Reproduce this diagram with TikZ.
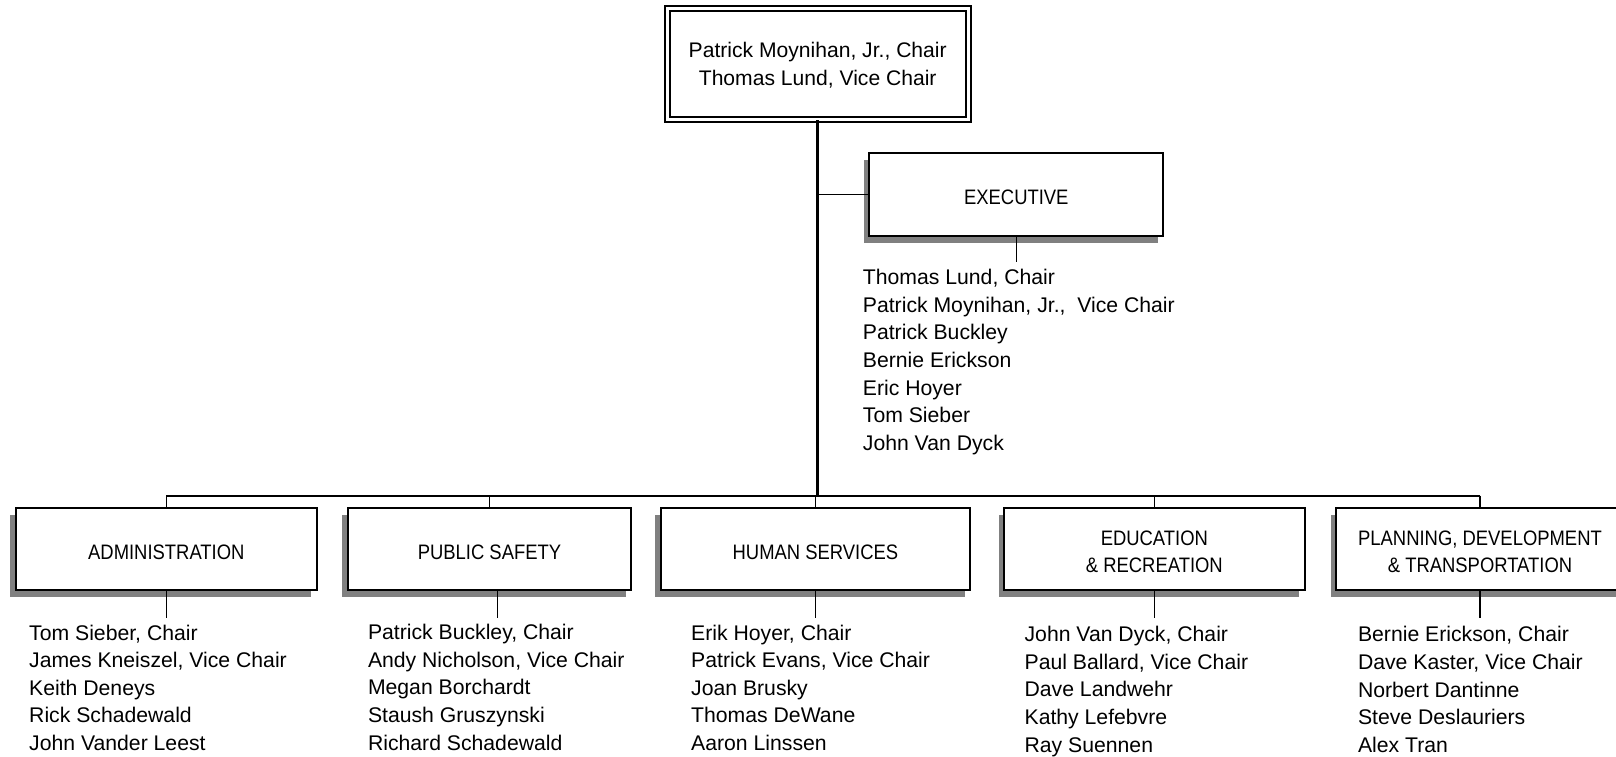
\documentclass[tikz,border=0pt]{standalone}
\usepackage{fontspec}
\setmainfont{Liberation Sans}
\newfontfamily\boxfont[FakeStretch=0.88]{Liberation Sans}
\usetikzlibrary{shadows}
\definecolor{shadowgray}{HTML}{808080}
\tikzset{
  unitbox/.style={draw, line width=1pt, fill=white, inner sep=0pt, minimum height=41.25pt,
    font=\boxfont\fontsize{10.47}{13.4}\selectfont,
    drop shadow={shadow xshift=-2.75pt, shadow yshift=-3.5pt, fill=shadowgray, opacity=1}},
  oneline/.style={text height=10.3pt, text depth=0pt},
  twoline/.style={text height=9.35pt, text depth=12.4pt},
  chairbox/.style={draw, double, line width=1pt, double distance=1.6pt, fill=white, inner sep=0pt,
    minimum width=150.6pt, minimum height=55.2pt,
    font=\fontsize{10.55}{13.65}\selectfont, text height=9.6pt, text depth=15.9pt},
  member/.style={anchor=base west, inner sep=0pt, font=\fontsize{10.6}{13}\selectfont},
  link/.style={line width=0.65pt},
  trunkline/.style={line width=1.7pt},
  busline/.style={line width=0.85pt},
}
\begin{document}
\begin{tikzpicture}[x=0.5pt,y=-0.5pt]
\useasboundingbox (0,0) rectangle (1616,756);
\clip (0,0) rectangle (1616,756);

% top box
\node[chairbox] (chair) at (817.7,64) {\begin{tabular}[t]{@{}c@{}}Patrick Moynihan, Jr., Chair\\Thomas Lund, Vice Chair\end{tabular}};

% executive
\node[unitbox, oneline, minimum width=147pt] (exec) at (1016.3,194.65) {EXECUTIVE};

% committee boxes
\node[unitbox, oneline, minimum width=150.6pt] (adm) at (166.3,548.85) {ADMINISTRATION};
\node[unitbox, oneline, minimum width=141.8pt] (pub) at (489.5,548.85) {PUBLIC SAFETY};
\node[unitbox, oneline, minimum width=154.9pt] (hum) at (815.45,548.85) {HUMAN SERVICES};
\node[unitbox, twoline, minimum width=150.35pt] (edu) at (1154.35,548.85) {\begin{tabular}[t]{@{}c@{}}EDUCATION\\\& RECREATION\end{tabular}};
\node[unitbox, twoline, minimum width=144pt] (plan) at (1480,548.85) {\begin{tabular}[t]{@{}c@{}}PLANNING, DEVELOPMENT\\\& TRANSPORTATION\end{tabular}};

% coordinates
\coordinate (hub) at (817.7,495.7);
\coordinate (execEnd) at (1016.3,262);
\coordinate (admEnd) at (166.3,618);
\coordinate (pubStart) at (497.3,590);
\coordinate (pubEnd) at (497.3,618);
\coordinate (humEnd) at (815.45,618);
\coordinate (eduEnd) at (1154.35,618);
\coordinate (planEnd) at (1480,618);

% connectors
\draw[trunkline] (chair.south) -- (hub);
\draw[link, line width=0.8pt] (chair.south |- exec.west) -- (exec.west);
\draw[link] (exec.south) -- (execEnd);
\draw[busline] (adm.north |- hub) -- (plan.north |- hub);
\draw[link] (adm.north |- hub) -- (adm.north);
\draw[link] (pub.north |- hub) -- (pub.north);
\draw[link] (hum.north |- hub) -- (hum.north);
\draw[link] (edu.north |- hub) -- (edu.north);
\draw[link] (plan.north |- hub) -- (plan.north);
\draw[link] (adm.south) -- (admEnd);
\draw[link] (pubStart) -- (pubEnd);
\draw[link] (hum.south) -- (humEnd);
\draw[link] (edu.south) -- (eduEnd);
\draw[link] (plan.south) -- (planEnd);

% member lists
\foreach \n [count=\i from 0] in {{Thomas Lund, Chair},{Patrick Moynihan, Jr.,\ \ Vice Chair},{Patrick Buckley},{Bernie Erickson},{Eric Hoyer},{Tom Sieber},{John Van Dyck}}
  \node[member] (ex\i) at (862.5,284.3+27.7*\i) {\n};
\foreach \n [count=\i from 0] in {{Tom Sieber, Chair},{James Kneiszel, Vice Chair},{Keith Deneys},{Rick Schadewald},{John Vander Leest}}
  \node[member] (adm\i) at (28.8,640+27.65*\i) {\n};
\foreach \n [count=\i from 0] in {{Patrick Buckley, Chair},{Andy Nicholson, Vice Chair},{Megan Borchardt},{Staush Gruszynski},{Richard Schadewald}}
  \node[member] (pub\i) at (367.6,639.5+27.65*\i) {\n};
\foreach \n [count=\i from 0] in {{Erik Hoyer, Chair},{Patrick Evans, Vice Chair},{Joan Brusky},{Thomas DeWane},{Aaron Linssen}}
  \node[member] (hum\i) at (690.8,640+27.65*\i) {\n};
\foreach \n [count=\i from 0] in {{John Van Dyck, Chair},{Paul Ballard, Vice Chair},{Dave Landwehr},{Kathy Lefebvre},{Ray Suennen}}
  \node[member] (edu\i) at (1024.2,641.5+27.65*\i) {\n};
\foreach \n [count=\i from 0] in {{Bernie Erickson, Chair},{Dave Kaster, Vice Chair},{Norbert Dantinne},{Steve Deslauriers},{Alex Tran}}
  \node[member] (plan\i) at (1357.6,641.7+27.65*\i) {\n};
\end{tikzpicture}
\end{document}
